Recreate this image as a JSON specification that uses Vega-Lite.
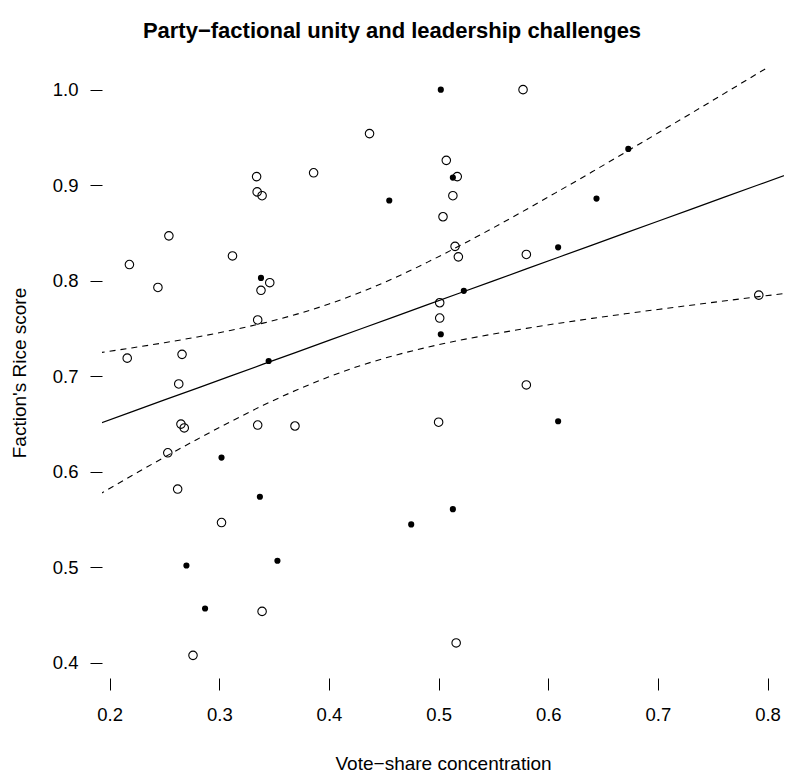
{
  "$schema": "https://vega.github.io/schema/vega-lite/v6.json",
  "width": 682,
  "height": 611,
  "autosize": {"type": "none"},
  "padding": {"left": 102, "top": 67, "right": 2, "bottom": 97},
  "background": "white",
  "config": {
    "view": {"stroke": null},
    "font": "Liberation Sans",
    "axis": {
      "grid": false,
      "domain": false,
      "tickColor": "black",
      "tickWidth": 1,
      "tickSize": 12,
      "labelColor": "black",
      "labelFontSize": 18.5,
      "labelFont": "Liberation Sans",
      "titleColor": "black",
      "titleFont": "Liberation Sans",
      "titleFontSize": 19,
      "titleFontWeight": "normal"
    }
  },
  "title": {
    "text": "Party−factional unity and leadership challenges",
    "font": "Liberation Sans",
    "fontSize": 22,
    "fontWeight": "bold",
    "color": "black",
    "anchor": "middle",
    "baseline": "alphabetic",
    "dx": -51,
    "offset": 7
  },
  "datasets": {
    "points": [
      {"x": 0.334, "y": 0.909, "challenge": "no"},
      {"x": 0.386, "y": 0.913, "challenge": "no"},
      {"x": 0.3345, "y": 0.893, "challenge": "no"},
      {"x": 0.339, "y": 0.889, "challenge": "no"},
      {"x": 0.254, "y": 0.847, "challenge": "no"},
      {"x": 0.218, "y": 0.817, "challenge": "no"},
      {"x": 0.312, "y": 0.826, "challenge": "no"},
      {"x": 0.577, "y": 1.0, "challenge": "no"},
      {"x": 0.437, "y": 0.954, "challenge": "no"},
      {"x": 0.507, "y": 0.926, "challenge": "no"},
      {"x": 0.517, "y": 0.909, "challenge": "no"},
      {"x": 0.513, "y": 0.889, "challenge": "no"},
      {"x": 0.504, "y": 0.867, "challenge": "no"},
      {"x": 0.515, "y": 0.836, "challenge": "no"},
      {"x": 0.518, "y": 0.825, "challenge": "no"},
      {"x": 0.58, "y": 0.8275, "challenge": "no"},
      {"x": 0.346, "y": 0.798, "challenge": "no"},
      {"x": 0.338, "y": 0.79, "challenge": "no"},
      {"x": 0.244, "y": 0.793, "challenge": "no"},
      {"x": 0.335, "y": 0.759, "challenge": "no"},
      {"x": 0.216, "y": 0.719, "challenge": "no"},
      {"x": 0.266, "y": 0.723, "challenge": "no"},
      {"x": 0.263, "y": 0.692, "challenge": "no"},
      {"x": 0.265, "y": 0.65, "challenge": "no"},
      {"x": 0.268, "y": 0.646, "challenge": "no"},
      {"x": 0.335, "y": 0.649, "challenge": "no"},
      {"x": 0.369, "y": 0.648, "challenge": "no"},
      {"x": 0.253, "y": 0.62, "challenge": "no"},
      {"x": 0.262, "y": 0.582, "challenge": "no"},
      {"x": 0.501, "y": 0.777, "challenge": "no"},
      {"x": 0.501, "y": 0.761, "challenge": "no"},
      {"x": 0.58, "y": 0.691, "challenge": "no"},
      {"x": 0.5, "y": 0.652, "challenge": "no"},
      {"x": 0.792, "y": 0.785, "challenge": "no"},
      {"x": 0.302, "y": 0.547, "challenge": "no"},
      {"x": 0.339, "y": 0.454, "challenge": "no"},
      {"x": 0.276, "y": 0.408, "challenge": "no"},
      {"x": 0.516, "y": 0.421, "challenge": "no"},
      {"x": 0.338, "y": 0.803, "challenge": "yes"},
      {"x": 0.502, "y": 1.0, "challenge": "yes"},
      {"x": 0.513, "y": 0.908, "challenge": "yes"},
      {"x": 0.455, "y": 0.884, "challenge": "yes"},
      {"x": 0.609, "y": 0.835, "challenge": "yes"},
      {"x": 0.673, "y": 0.938, "challenge": "yes"},
      {"x": 0.644, "y": 0.886, "challenge": "yes"},
      {"x": 0.345, "y": 0.716, "challenge": "yes"},
      {"x": 0.302, "y": 0.615, "challenge": "yes"},
      {"x": 0.523, "y": 0.7895, "challenge": "yes"},
      {"x": 0.502, "y": 0.744, "challenge": "yes"},
      {"x": 0.609, "y": 0.653, "challenge": "yes"},
      {"x": 0.337, "y": 0.574, "challenge": "yes"},
      {"x": 0.27, "y": 0.502, "challenge": "yes"},
      {"x": 0.353, "y": 0.507, "challenge": "yes"},
      {"x": 0.287, "y": 0.457, "challenge": "yes"},
      {"x": 0.513, "y": 0.561, "challenge": "yes"},
      {"x": 0.475, "y": 0.545, "challenge": "yes"}
    ],
    "fit": [
      {"x": 0.19, "fit": 0.6503, "lower": 0.5761, "upper": 0.7245},
      {"x": 0.22, "fit": 0.6628, "lower": 0.5959, "upper": 0.7297},
      {"x": 0.25, "fit": 0.6753, "lower": 0.6154, "upper": 0.7352},
      {"x": 0.28, "fit": 0.6877, "lower": 0.6342, "upper": 0.7412},
      {"x": 0.31, "fit": 0.7002, "lower": 0.6524, "upper": 0.748},
      {"x": 0.34, "fit": 0.7127, "lower": 0.6697, "upper": 0.7557},
      {"x": 0.37, "fit": 0.7251, "lower": 0.6854, "upper": 0.7648},
      {"x": 0.4, "fit": 0.7376, "lower": 0.6995, "upper": 0.7757},
      {"x": 0.43, "fit": 0.7501, "lower": 0.7117, "upper": 0.7885},
      {"x": 0.46, "fit": 0.7625, "lower": 0.7219, "upper": 0.8031},
      {"x": 0.49, "fit": 0.775, "lower": 0.7305, "upper": 0.8195},
      {"x": 0.52, "fit": 0.7875, "lower": 0.7379, "upper": 0.8371},
      {"x": 0.55, "fit": 0.7999, "lower": 0.7443, "upper": 0.8555},
      {"x": 0.58, "fit": 0.8124, "lower": 0.7502, "upper": 0.8746},
      {"x": 0.61, "fit": 0.8249, "lower": 0.7556, "upper": 0.8942},
      {"x": 0.64, "fit": 0.8373, "lower": 0.7606, "upper": 0.914},
      {"x": 0.67, "fit": 0.8498, "lower": 0.7654, "upper": 0.9342},
      {"x": 0.7, "fit": 0.8623, "lower": 0.77, "upper": 0.9546},
      {"x": 0.73, "fit": 0.8747, "lower": 0.7744, "upper": 0.975},
      {"x": 0.76, "fit": 0.8872, "lower": 0.7788, "upper": 0.9956},
      {"x": 0.79, "fit": 0.8997, "lower": 0.7831, "upper": 1.0163},
      {"x": 0.82, "fit": 0.9121, "lower": 0.7873, "upper": 1.0369}
    ]
  },
  "layer": [
    {
      "data": {"name": "points"},
      "transform": [{"filter": "datum.challenge === 'no'"}],
      "mark": {"type": "point", "shape": "circle", "filled": false, "stroke": "black", "strokeWidth": 1.1, "size": 72, "opacity": 1},
      "encoding": {
        "x": {"field": "x", "type": "quantitative", "scale": {"domain": [0.193, 0.815], "nice": false, "zero": false},
              "axis": {"values": [0.2, 0.3, 0.4, 0.5, 0.6, 0.7, 0.8], "format": ".1f", "title": "Vote−share concentration", "labelPadding": 15, "titlePadding": 31}},
        "y": {"field": "y", "type": "quantitative", "scale": {"domain": [0.3843, 1.0237], "nice": false, "zero": false},
              "axis": {"values": [0.4, 0.5, 0.6, 0.7, 0.8, 0.9, 1.0], "format": ".1f", "title": "Faction's Rice score", "labelPadding": 12, "titlePadding": 23}}
      }
    },
    {
      "data": {"name": "points"},
      "transform": [{"filter": "datum.challenge === 'yes'"}],
      "mark": {"type": "circle", "color": "black", "size": 38, "opacity": 1},
      "encoding": {
        "x": {"field": "x", "type": "quantitative"},
        "y": {"field": "y", "type": "quantitative"}
      }
    },
    {
      "data": {"name": "fit"},
      "mark": {"type": "line", "color": "black", "strokeWidth": 1.2, "clip": true},
      "encoding": {
        "x": {"field": "x", "type": "quantitative"},
        "y": {"field": "fit", "type": "quantitative"}
      }
    },
    {
      "data": {"name": "fit"},
      "mark": {"type": "line", "color": "black", "strokeWidth": 1.1, "strokeDash": [6, 5], "clip": true, "interpolate": "monotone"},
      "encoding": {
        "x": {"field": "x", "type": "quantitative"},
        "y": {"field": "upper", "type": "quantitative"}
      }
    },
    {
      "data": {"name": "fit"},
      "mark": {"type": "line", "color": "black", "strokeWidth": 1.1, "strokeDash": [6, 5], "clip": true, "interpolate": "monotone"},
      "encoding": {
        "x": {"field": "x", "type": "quantitative"},
        "y": {"field": "lower", "type": "quantitative"}
      }
    },
    {
      "mark": {"type": "rule", "color": "black", "strokeWidth": 1},
      "encoding": {
        "x": {"datum": 0.2, "type": "quantitative"},
        "x2": {"datum": 0.8},
        "y": {"datum": 0.3843, "type": "quantitative"}
      }
    },
    {
      "mark": {"type": "rule", "color": "black", "strokeWidth": 1},
      "encoding": {
        "x": {"datum": 0.193, "type": "quantitative"},
        "y": {"datum": 0.4, "type": "quantitative"},
        "y2": {"datum": 1.0}
      }
    }
  ]
}
